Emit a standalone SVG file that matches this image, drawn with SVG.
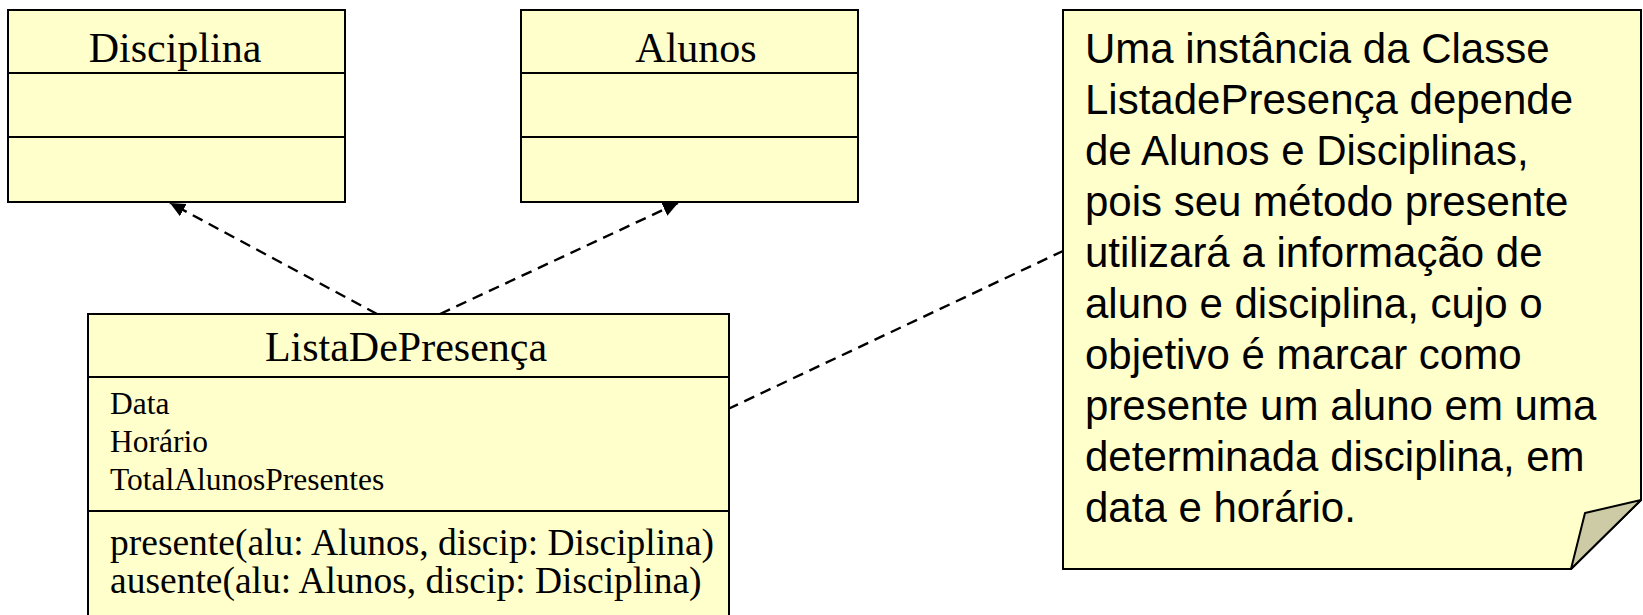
<svg xmlns="http://www.w3.org/2000/svg" width="1643" height="615" viewBox="0 0 1643 615">
<style>
.box{fill:#ffffcc;stroke:#000;stroke-width:2}
.div{stroke:#000;stroke-width:2}
.dash{fill:none;stroke:#000;stroke-width:2.4;stroke-dasharray:11,7}
.title{font-family:"Liberation Serif","Times New Roman",serif;font-size:42px;text-anchor:middle;fill:#000}
.attr{font-family:"Liberation Serif","Times New Roman",serif;font-size:31.5px;fill:#000}
.meth{font-family:"Liberation Serif","Times New Roman",serif;font-size:37.5px;fill:#000}
.note{font-family:"Liberation Sans",Arial,sans-serif;font-size:42px;fill:#000}
</style>
<defs>
<marker id="arr" markerUnits="userSpaceOnUse" markerWidth="16" markerHeight="16" refX="15" refY="7.5" orient="auto">
<path d="M0,0.5 L15,7.5 L0,14.5 Z" fill="#000"/>
</marker>
</defs>
<rect width="1643" height="615" fill="#fff"/>
<g id="disciplina">
<rect class="box" x="8" y="10" width="337" height="192"/>
<line class="div" x1="8" y1="73" x2="345" y2="73"/>
<line class="div" x1="8" y1="137" x2="345" y2="137"/>
<text class="title" x="175" y="62">Disciplina</text>
</g>
<g id="alunos">
<rect class="box" x="521" y="10" width="337" height="192"/>
<line class="div" x1="521" y1="73" x2="858" y2="73"/>
<line class="div" x1="521" y1="137" x2="858" y2="137"/>
<text class="title" x="696" y="62">Alunos</text>
</g>
<g id="connectors">
<line class="dash" x1="377" y1="314" x2="170" y2="203" marker-end="url(#arr)"/>
<line class="dash" x1="440" y1="314" x2="678" y2="203" marker-end="url(#arr)"/>
<line class="dash" x1="728" y1="409" x2="1063" y2="251"/>
</g>
<g id="listadepresenca">
<rect class="box" x="88" y="314" width="641" height="320"/>
<line class="div" x1="88" y1="377" x2="729" y2="377"/>
<line class="div" x1="88" y1="511" x2="729" y2="511"/>
<text class="title" x="406" y="361">ListaDePresença</text>
<text class="attr" x="110" y="414">Data</text>
<text class="attr" x="110" y="452">Horário</text>
<text class="attr" x="110" y="490">TotalAlunosPresentes</text>
<text class="meth" x="110" y="555">presente(alu: Alunos, discip: Disciplina)</text>
<text class="meth" x="110" y="593">ausente(alu: Alunos, discip: Disciplina)</text>
</g>
<g id="note">
<path d="M1063,10 L1641,10 L1641,500 L1571,569 L1063,569 Z" fill="#ffffcc" stroke="#000" stroke-width="2"/>
<path d="M1641,500 L1585,513 L1571,569 Z" fill="#cdcba5" stroke="#000" stroke-width="2" stroke-linejoin="round"/>
<text class="note" x="1085" y="63">Uma instância da Classe</text>
<text class="note" x="1085" y="114">ListadePresença depende</text>
<text class="note" x="1085" y="165">de Alunos e Disciplinas,</text>
<text class="note" x="1085" y="216">pois seu método presente</text>
<text class="note" x="1085" y="267">utilizará a informação de</text>
<text class="note" x="1085" y="318">aluno e disciplina, cujo o</text>
<text class="note" x="1085" y="369">objetivo é marcar como</text>
<text class="note" x="1085" y="420">presente um aluno em uma</text>
<text class="note" x="1085" y="471">determinada disciplina, em</text>
<text class="note" x="1085" y="522">data e horário.</text>
</g>
</svg>
